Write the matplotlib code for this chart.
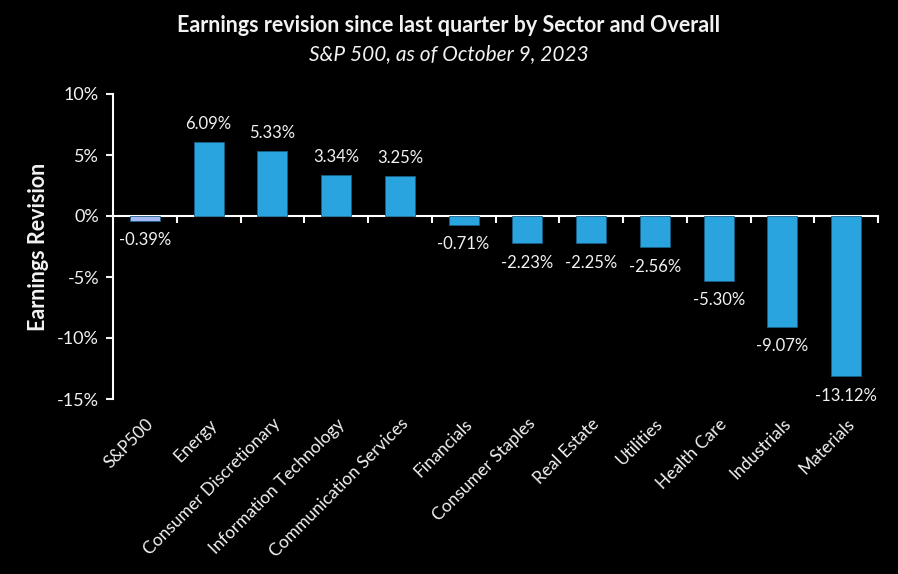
import matplotlib

matplotlib.use("Agg")
import matplotlib.pyplot as plt  # noqa: E402
import numpy as np  # noqa: E402

# values (percent)
sectors = ["S&P500", "Energy", "Consumer Discretionary", "Information Technology",
           "Communication Services", "Financials", "Consumer Staples", "Real Estate",
           "Utilities", "Health Care", "Industrials", "Materials"]
revision = [-0.39, 6.09, 5.33, 3.34, 3.25, -0.71, -2.23, -2.25, -2.56, -5.30, -9.07, -13.12]
yticks = [-15, -10, -5, 0, 5, 10]

BG = "black"
FG = "#F2F2F2"
BLUE = "#29A4DF"
LAVENDER = "#A3B8F4"

plt.rcParams["font.family"] = ["Lato", "DejaVu Sans"]

fig = plt.figure(figsize=(8.98, 5.74), dpi=100, facecolor=BG)
ax = fig.add_axes((113 / 898, 1 - 399 / 574, 765 / 898, 305 / 574), facecolor=BG)

x = np.arange(len(sectors)) + 0.5
colors = [LAVENDER] + [BLUE] * (len(sectors) - 1)
ax.bar(x, revision, width=0.47, color=colors, edgecolor="#1b5f86", linewidth=0.6, zorder=2)

for xi, v in zip(x, revision):
    off = 13 if v >= 0 else -14
    ax.annotate(f"{v:.2f}%", (xi, v), xytext=(0, off), textcoords="offset points",
                ha="center", va="center", color=FG, fontsize=12)

ax.set_xlim(0, len(sectors))
ax.set_ylim(-15, 10)
ax.set_yticks(yticks, [f"{t}%" for t in yticks])
ax.tick_params(axis="y", colors=FG, labelcolor=FG, labelsize=13, length=5, width=1.5, pad=5)

# category labels at the bottom, no tick marks there
ax.set_xticks(x, sectors, rotation=45, ha="right", rotation_mode="anchor")
ax.tick_params(axis="x", length=0, pad=12, labelcolor=FG, labelsize=12.5)

for s in ["top", "right", "bottom"]:
    ax.spines[s].set_visible(False)
ax.spines["left"].set_color("white")
ax.spines["left"].set_linewidth(1.5)

# zero line with boundary ticks
zero = ax.secondary_xaxis(0, transform=ax.transData)
zero.set_xticks(np.arange(1, len(sectors) + 1), [])
zero.tick_params(axis="x", colors="white", length=5, width=1.5, direction="out")
zero.spines["bottom"].set_color("white")
zero.spines["bottom"].set_linewidth(1.5)

ax.set_ylabel("Earnings Revision", color=FG, fontsize=15.5, fontweight="bold", labelpad=6)

fig.text(0.5, 1 - 26 / 574, "Earnings revision since last quarter by Sector and Overall",
         ha="center", va="center", color=FG, fontsize=15.5, fontweight="bold")
fig.text(0.5, 1 - 54 / 574, "S&P 500, as of October 9, 2023",
         ha="center", va="center", color=FG, fontsize=15, style="italic")

fig.savefig("out.png", dpi=100, facecolor=BG)
